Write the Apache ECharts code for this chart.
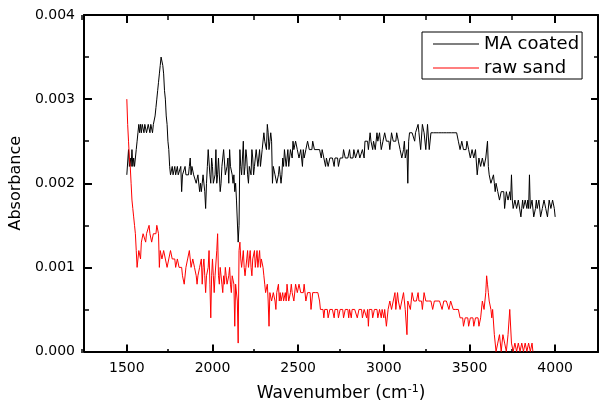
<!DOCTYPE html>
<html><head><meta charset="utf-8">
<script src="https://cdn.jsdelivr.net/npm/echarts@6/dist/echarts.min.js"></script>
<style>html,body{margin:0;padding:0;background:#fff}#c{width:600px;height:407px}</style>
</head><body><div id="c"></div>
<script>
// Sampling grid of the spectra (cm-1)
const wnStart = 1500, wnStep = 5;

// MA coated absorbance, 1500..4000 cm-1 every 5 cm-1
const maCoated = [
0.0021,0.0021,0.0024,0.0022,0.0023,0.0022,0.0024,0.0022,0.0023,0.0022,0.0023,0.0024,0.0025,0.0026,0.0027,0.0026,0.0027,0.0026,0.0027,0.0027,
0.0026,0.0027,0.0027,0.0026,0.0026,0.0027,0.0027,0.0026,0.0027,0.0027,0.0026,0.0027,0.0027,0.0028,0.0029,0.0030,0.0031,0.0032,0.0033,0.0034,
0.0035,0.0035,0.0034,0.0033,0.0031,0.0030,0.0028,0.0027,0.0025,0.0024,0.0022,0.0021,0.0021,0.0022,0.0021,0.0021,0.0022,0.0021,0.0021,0.0022,
0.0021,0.0021,0.0021,0.0022,0.0019,0.0021,0.0021,0.0021,0.0022,0.0021,0.0021,0.0021,0.0021,0.0022,0.0023,0.0021,0.0022,0.0022,0.0021,0.0021,
0.0021,0.0020,0.0020,0.0021,0.0021,0.0019,0.0020,0.0019,0.0020,0.0021,0.0021,0.0019,0.0017,0.0020,0.0022,0.0024,0.0024,0.0021,0.0020,0.0023,
0.0022,0.0020,0.0020,0.0021,0.0024,0.0020,0.0021,0.0023,0.0023,0.0019,0.0020,0.0022,0.0022,0.0024,0.0024,0.0021,0.0021,0.0022,0.0023,0.0020,
0.0024,0.0022,0.0022,0.0021,0.0020,0.0021,0.0019,0.0020,0.0018,0.0018,0.0013,0.0015,0.0024,0.0022,0.0021,0.0023,0.0025,0.0021,0.0022,0.0024,
0.0023,0.0021,0.0020,0.0022,0.0022,0.0021,0.0024,0.0023,0.0021,0.0022,0.0023,0.0024,0.0024,0.0022,0.0023,0.0024,0.0022,0.0023,0.0024,0.0024,
0.0026,0.0025,0.0025,0.0024,0.0027,0.0026,0.0024,0.0025,0.0026,0.0025,0.0020,0.0022,0.0022,0.0021,0.0021,0.0020,0.0020,0.0021,0.0022,0.0021,
0.0020,0.0021,0.0023,0.0022,0.0024,0.0023,0.0022,0.0023,0.0024,0.0022,0.0023,0.0024,0.0024,0.0023,0.0025,0.0024,0.0024,0.0025,0.0025,0.0024,
0.0024,0.0023,0.0023,0.0024,0.0024,0.0022,0.0024,0.0023,0.0023,0.0024,0.0024,0.0025,0.0025,0.0024,0.0024,0.0024,0.0024,0.0025,0.0025,0.0024,
0.0024,0.0024,0.0024,0.0024,0.0024,0.0024,0.0024,0.0023,0.0024,0.0024,0.0023,0.0023,0.0022,0.0023,0.0023,0.0022,0.0022,0.0023,0.0023,0.0023,
0.0023,0.0023,0.0022,0.0023,0.0023,0.0023,0.0023,0.0022,0.0022,0.0023,0.0023,0.0023,0.0023,0.0024,0.0024,0.0023,0.0023,0.0023,0.0023,0.0023,
0.0024,0.0023,0.0023,0.0023,0.0023,0.0024,0.0024,0.0023,0.0023,0.0023,0.0024,0.0024,0.0023,0.0023,0.0023,0.0024,0.0024,0.0023,0.0025,0.0025,
0.0025,0.0025,0.0024,0.0025,0.0026,0.0025,0.0025,0.0024,0.0025,0.0025,0.0024,0.0025,0.0026,0.0025,0.0025,0.0026,0.0025,0.0024,0.0024,0.0025,
0.0025,0.0026,0.0026,0.0025,0.0025,0.0025,0.0025,0.0024,0.0024,0.0026,0.0026,0.0025,0.0025,0.0025,0.0025,0.0026,0.0026,0.0025,0.0025,0.0024,
0.0024,0.0023,0.0023,0.0024,0.0025,0.0023,0.0023,0.0024,0.0020,0.0025,0.0026,0.0026,0.0026,0.0026,0.0026,0.0026,0.0025,0.0026,0.0026,0.0026,
0.0027,0.0026,0.0026,0.0024,0.0024,0.0027,0.0027,0.0026,0.0026,0.0024,0.0024,0.0027,0.0027,0.0024,0.0024,0.0026,0.0026,0.0026,0.0026,0.0026,
0.0026,0.0026,0.0026,0.0026,0.0026,0.0026,0.0026,0.0026,0.0026,0.0026,0.0026,0.0026,0.0026,0.0026,0.0026,0.0026,0.0026,0.0026,0.0026,0.0026,
0.0026,0.0026,0.0026,0.0026,0.0026,0.0026,0.0026,0.0025,0.0025,0.0024,0.0024,0.0025,0.0025,0.0024,0.0024,0.0024,0.0024,0.0025,0.0025,0.0024,
0.0024,0.0023,0.0023,0.0024,0.0024,0.0023,0.0023,0.0024,0.0024,0.0021,0.0021,0.0023,0.0023,0.0022,0.0022,0.0023,0.0023,0.0022,0.0022,0.0023,
0.0023,0.0025,0.0022,0.0021,0.0021,0.0020,0.0020,0.0020,0.0021,0.0020,0.0019,0.0020,0.0020,0.0019,0.0019,0.0018,0.0018,0.0019,0.0019,0.0019,
0.0019,0.0017,0.0018,0.0019,0.0019,0.0018,0.0018,0.0019,0.0018,0.0021,0.0018,0.0017,0.0017,0.0018,0.0018,0.0017,0.0017,0.0018,0.0018,0.0018,
0.0016,0.0017,0.0018,0.0017,0.0017,0.0018,0.0018,0.0017,0.0018,0.0017,0.0021,0.0017,0.0017,0.0018,0.0018,0.0016,0.0016,0.0017,0.0018,0.0017,
0.0017,0.0018,0.0018,0.0016,0.0016,0.0017,0.0017,0.0018,0.0018,0.0017,0.0017,0.0016,0.0016,0.0018,0.0018,0.0017,0.0017,0.0018,0.0018,0.0017,
0.0016
];

// raw sand absorbance, 1500..3870 cm-1 every 5 cm-1
const rawSand = [
0.0030,0.0027,0.0025,0.0023,0.0022,0.0020,0.0018,0.0017,0.0016,0.0015,0.0014,0.0012,0.0010,0.0011,0.0012,0.0012,0.0011,0.0013,0.0013,0.0014,
0.0014,0.0014,0.0013,0.0014,0.0014,0.0014,0.0015,0.0014,0.0014,0.0013,0.0013,0.0014,0.0014,0.0014,0.0014,0.0015,0.0015,0.0014,0.0010,0.0012,
0.0012,0.0011,0.0011,0.0012,0.0012,0.0011,0.0011,0.0010,0.0010,0.0011,0.0011,0.0012,0.0012,0.0011,0.0011,0.0011,0.0011,0.0010,0.0010,0.0011,
0.0011,0.0010,0.0010,0.0010,0.0010,0.0009,0.0009,0.0008,0.0008,0.0010,0.0010,0.0011,0.0011,0.0012,0.0012,0.0010,0.0010,0.0011,0.0011,0.0010,
0.0010,0.0009,0.0008,0.0009,0.0009,0.0010,0.0010,0.0011,0.0008,0.0010,0.0011,0.0009,0.0007,0.0009,0.0009,0.0010,0.0012,0.0008,0.0004,0.0009,
0.0011,0.0009,0.0007,0.0009,0.0009,0.0012,0.0014,0.0009,0.0008,0.0010,0.0010,0.0008,0.0007,0.0009,0.0008,0.0010,0.0009,0.0008,0.0008,0.0009,
0.0010,0.0008,0.0007,0.0009,0.0009,0.0008,0.0003,0.0008,0.0008,0.0006,0.0001,0.0012,0.0013,0.0011,0.0010,0.0011,0.0012,0.0010,0.0009,0.0010,
0.0011,0.0012,0.0010,0.0011,0.0012,0.0010,0.0009,0.0011,0.0011,0.0012,0.0010,0.0011,0.0012,0.0010,0.0011,0.0012,0.0010,0.0011,0.0011,0.0010,
0.0009,0.0008,0.0007,0.0007,0.0008,0.0006,0.0003,0.0007,0.0007,0.0006,0.0006,0.0007,0.0007,0.0006,0.0005,0.0007,0.0007,0.0008,0.0006,0.0007,
0.0006,0.0006,0.0007,0.0006,0.0006,0.0007,0.0006,0.0008,0.0008,0.0006,0.0006,0.0007,0.0008,0.0007,0.0007,0.0006,0.0006,0.0008,0.0008,0.0007,
0.0007,0.0008,0.0008,0.0007,0.0007,0.0007,0.0007,0.0008,0.0007,0.0006,0.0006,0.0007,0.0007,0.0007,0.0007,0.0005,0.0005,0.0007,0.0007,0.0007,
0.0007,0.0007,0.0007,0.0007,0.0007,0.0006,0.0005,0.0005,0.0005,0.0005,0.0004,0.0005,0.0005,0.0005,0.0005,0.0004,0.0004,0.0005,0.0005,0.0005,
0.0005,0.0005,0.0004,0.0005,0.0005,0.0005,0.0005,0.0004,0.0004,0.0005,0.0005,0.0005,0.0005,0.0004,0.0004,0.0005,0.0005,0.0005,0.0005,0.0004,
0.0005,0.0005,0.0004,0.0005,0.0005,0.0005,0.0005,0.0005,0.0005,0.0004,0.0004,0.0005,0.0005,0.0005,0.0005,0.0004,0.0004,0.0005,0.0005,0.0005,
0.0004,0.0005,0.0003,0.0005,0.0005,0.0005,0.0005,0.0004,0.0004,0.0005,0.0005,0.0005,0.0005,0.0004,0.0004,0.0005,0.0005,0.0004,0.0005,0.0005,
0.0004,0.0005,0.0005,0.0003,0.0003,0.0005,0.0005,0.0006,0.0006,0.0005,0.0005,0.0006,0.0006,0.0007,0.0005,0.0006,0.0007,0.0006,0.0006,0.0005,
0.0005,0.0006,0.0006,0.0007,0.0007,0.0005,0.0005,0.0002,0.0006,0.0006,0.0006,0.0005,0.0005,0.0007,0.0007,0.0006,0.0006,0.0006,0.0006,0.0006,
0.0007,0.0006,0.0006,0.0006,0.0006,0.0005,0.0005,0.0007,0.0007,0.0006,0.0006,0.0006,0.0006,0.0006,0.0006,0.0006,0.0006,0.0005,0.0005,0.0006,
0.0006,0.0006,0.0006,0.0006,0.0006,0.0006,0.0006,0.0006,0.0005,0.0005,0.0006,0.0006,0.0006,0.0006,0.0006,0.0006,0.0005,0.0005,0.0006,0.0006,
0.0006,0.0005,0.0005,0.0005,0.0005,0.0005,0.0005,0.0005,0.0005,0.0004,0.0004,0.0004,0.0004,0.0003,0.0003,0.0004,0.0004,0.0004,0.0004,0.0003,
0.0003,0.0004,0.0004,0.0004,0.0004,0.0003,0.0003,0.0004,0.0004,0.0004,0.0004,0.0003,0.0003,0.0004,0.0004,0.0006,0.0006,0.0005,0.0005,0.0007,
0.0009,0.0008,0.0007,0.0006,0.0006,0.0005,0.0004,0.0005,0.0005,0.0002,0.0002,0.0000,0.0000,0.0001,0.0001,0.0002,0.0002,0.0000,0.0000,0.0002,
0.0002,0.0001,0.0001,0.0000,0.0000,0.0002,0.0002,0.0005,0.0005,0.0001,0.0001,0.0000,0.0000,0.0001,0.0001,0.0000,0.0000,0.0001,0.0001,0.0000,
0.0000,0.0001,0.0001,0.0000,0.0000,0.0001,0.0001,0.0000,0.0000,0.0001,0.0001,0.0000,0.0000,0.0001,0.0000
];

const seriesNames = ['MA coated', 'raw sand'];
const xMajorTicks = [1500, 2000, 2500, 3000, 3500, 4000];
const xMinorTicks = [1250, 1750, 2250, 2750, 3250, 3750, 4250];
const xRange = [1250, 4250];
const yRange = [0, 0.004];

const toPairs = arr => arr.map((v, i) => [wnStart + i * wnStep, v]);
const FONT = 'DejaVu Sans';
const blackLine = { color: '#000', width: 2 };

const chart = echarts.init(document.getElementById('c'), null, { renderer: 'canvas' });
chart.setOption({
  animation: false,
  backgroundColor: '#fff',
  grid: [
    { left: 82, right: 2, top: 15, bottom: 54 },
    { left: 82, right: 2, top: 15, bottom: 54 }
  ],
  legend: {
    data: seriesNames,
    orient: 'vertical',
    left: 422, top: 32,
    padding: [2, 3, 1, 11],
    icon: 'rect',
    itemGap: 4, itemWidth: 46, itemHeight: 1,
    borderColor: '#000', borderWidth: 1, borderRadius: 0,
    backgroundColor: '#fff',
    textStyle: { fontFamily: FONT, fontSize: 18, lineHeight: 20, color: '#000' }
  },
  xAxis: [
    {
      type: 'value', gridIndex: 0, position: 'bottom',
      min: xRange[0], max: xRange[1],
      name: '{t|Wavenumber (cm}{s|-1}{t|)}',
      nameLocation: 'middle', nameGap: 32,
      nameTextStyle: {
        fontFamily: FONT, fontSize: 17, color: '#000',
        rich: {
          t: { fontFamily: FONT, fontSize: 17, color: '#000', lineHeight: 20 },
          s: { fontFamily: FONT, fontSize: 11, color: '#000', verticalAlign: 'top', lineHeight: 12 }
        }
      },
      axisLine: { onZero: false, lineStyle: blackLine },
      axisTick: { inside: true, length: 7, customValues: xMajorTicks, lineStyle: blackLine },
      axisLabel: { customValues: xMajorTicks, margin: 10, fontFamily: FONT, fontSize: 14, color: '#000', formatter: v => String(v) },
      splitLine: { show: false }
    },
    {
      type: 'value', gridIndex: 0, position: 'top',
      min: xRange[0], max: xRange[1],
      axisLine: { onZero: false, lineStyle: blackLine },
      axisTick: { inside: true, length: 8, customValues: xMajorTicks, lineStyle: blackLine },
      axisLabel: { show: false },
      splitLine: { show: false }
    },
    {
      type: 'value', gridIndex: 1, position: 'bottom',
      min: xRange[0], max: xRange[1],
      axisLine: { show: false, onZero: false },
      axisTick: { inside: true, length: 4, customValues: xMinorTicks, lineStyle: { color: '#000', width: 1.5 } },
      axisLabel: { show: false },
      splitLine: { show: false }
    },
    {
      type: 'value', gridIndex: 1, position: 'top',
      min: xRange[0], max: xRange[1],
      axisLine: { show: false, onZero: false },
      axisTick: { inside: true, length: 5, customValues: xMinorTicks, lineStyle: { color: '#000', width: 1.5 } },
      axisLabel: { show: false },
      splitLine: { show: false }
    }
  ],
  yAxis: [
    {
      type: 'value', gridIndex: 0, position: 'left',
      min: yRange[0], max: yRange[1], interval: 0.001,
      name: 'Absorbance', nameLocation: 'middle', nameGap: 49, nameRotate: 90,
      nameTextStyle: { fontFamily: FONT, fontSize: 16, color: '#000' },
      axisLine: { onZero: false, lineStyle: blackLine },
      axisTick: { inside: true, length: 8, lineStyle: blackLine },
      minorTick: { show: true, splitNumber: 2, length: 5, lineStyle: { color: '#000', width: 1.5 } },
      axisLabel: { margin: 9, fontFamily: FONT, fontSize: 14, color: '#000', formatter: v => v.toFixed(3) },
      splitLine: { show: false }, minorSplitLine: { show: false }
    },
    {
      type: 'value', gridIndex: 0, position: 'right',
      min: yRange[0], max: yRange[1], interval: 0.001,
      axisLine: { onZero: false, lineStyle: blackLine },
      axisTick: { inside: true, length: 7, lineStyle: blackLine },
      minorTick: { show: true, splitNumber: 2, length: 4, lineStyle: { color: '#000', width: 1.5 } },
      axisLabel: { show: false },
      splitLine: { show: false }, minorSplitLine: { show: false }
    },
    {
      type: 'value', gridIndex: 1, show: false,
      min: yRange[0], max: yRange[1]
    }
  ],
  series: [
    {
      name: seriesNames[0], type: 'line', xAxisIndex: 0, yAxisIndex: 0,
      data: toPairs(maCoated), symbol: 'none', showSymbol: false,
      lineStyle: { color: '#000', width: 1 }, itemStyle: { color: '#000' }
    },
    {
      name: seriesNames[1], type: 'line', xAxisIndex: 0, yAxisIndex: 0,
      data: toPairs(rawSand), symbol: 'none', showSymbol: false,
      lineStyle: { color: '#ff0000', width: 1 }, itemStyle: { color: '#ff0000' }
    }
  ]
});
</script>
</body></html>
